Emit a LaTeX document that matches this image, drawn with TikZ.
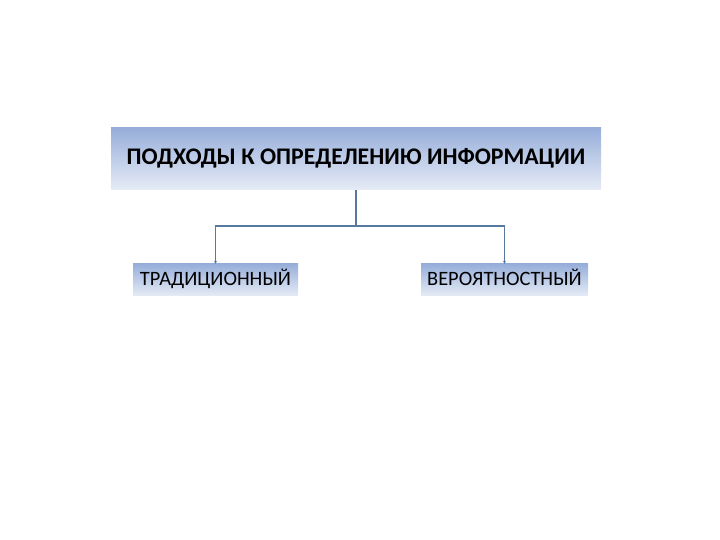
\documentclass[tikz,border=0pt]{standalone}
\usepackage{fontspec}
\setmainfont{Carlito}
\usepackage{tikz}
\usetikzlibrary{arrows.meta,calc}
\definecolor{boxtop}{HTML}{97AEDA}
\definecolor{boxbot}{HTML}{E6ECF6}
\definecolor{linkcol}{HTML}{57799E}
\tikzset{
  headbox/.style={minimum width=490pt,minimum height=62pt,inner sep=0pt,
    top color=boxtop,bottom color=boxbot,font=\fontsize{23.8}{28}\selectfont\bfseries},
  kindbox/.style={minimum height=32pt,inner sep=0pt,text height=14pt,text depth=3pt,
    top color=boxtop,bottom color=boxbot,font=\fontsize{20.4}{24}\selectfont},
  link/.style={draw=linkcol,line width=1.6pt,-{Stealth[length=3pt,width=3pt]}}
}
\begin{document}
\begin{tikzpicture}[x=1pt,y=1pt]
\useasboundingbox (0,0) rectangle (720,540);
  \node[headbox] (approach) at (356,381) {\raisebox{5pt}{ПОДХОДЫ К ОПРЕДЕЛЕНИЮ ИНФОРМАЦИИ}};
  \node[kindbox,minimum width=165pt] (trad) at (215.5,260) {ТРАДИЦИОННЫЙ};
  \node[kindbox,minimum width=167pt] (prob) at (504.5,260) {ВЕРОЯТНОСТНЫЙ};
  \coordinate (fork) at ($(approach.south)+(0,-36)$);
  \draw[link] (approach.south) -- (fork) -| (trad.north);
  \draw[link] (fork) -| (prob.north);
\end{tikzpicture}
\end{document}
